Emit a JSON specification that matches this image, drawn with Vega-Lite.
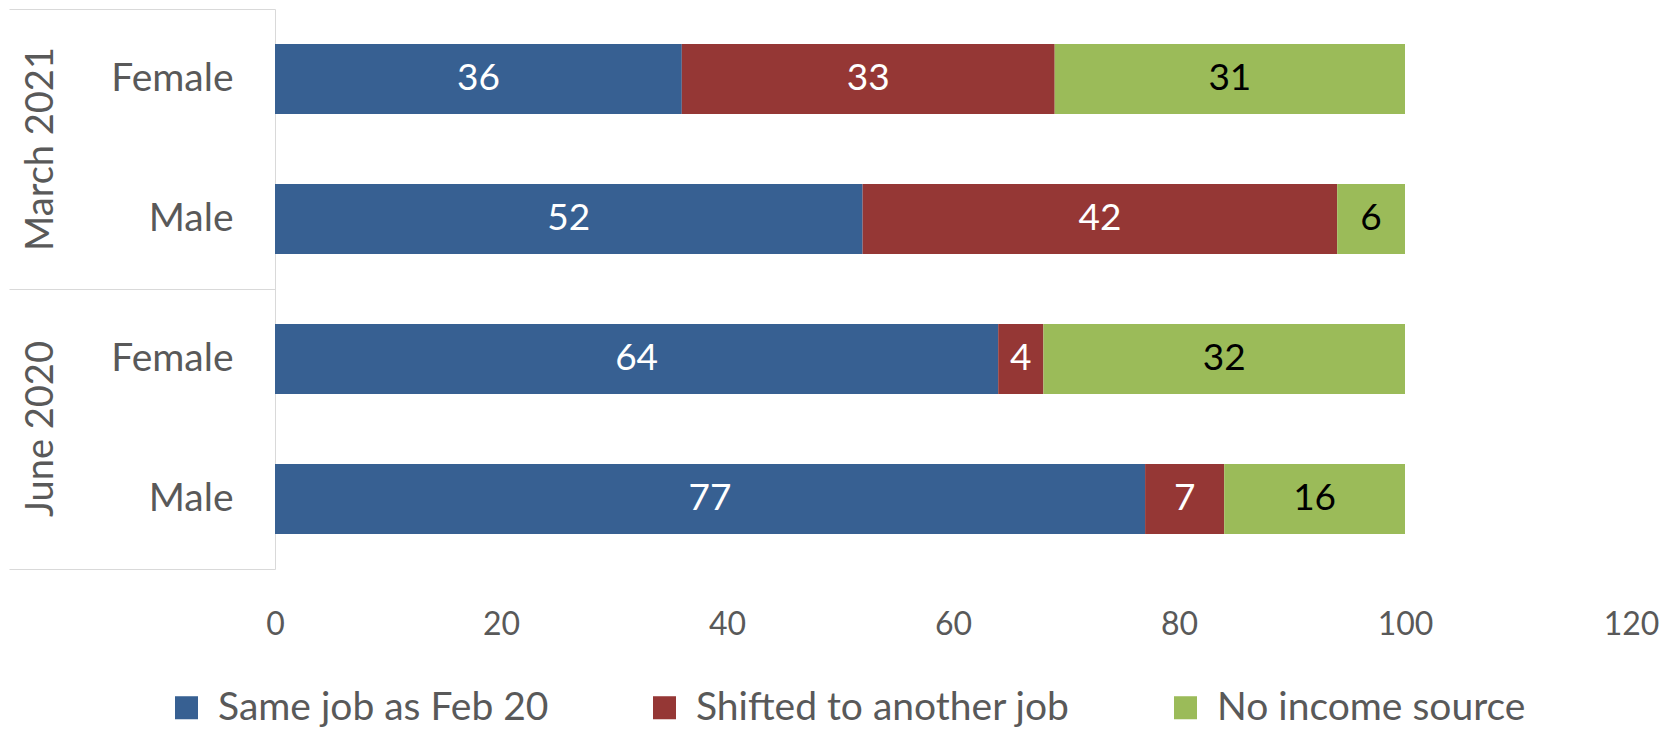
{
  "$schema": "https://vega.github.io/schema/vega-lite/v6.json",
  "width": 1356,
  "height": 560,
  "padding": {"left": 8, "top": 8, "right": 5, "bottom": 0},
  "background": "white",
  "config": {
    "font": "Lato",
    "view": {"stroke": null},
    "axis": {"grid": false}
  },
  "data": {
    "values": [
      {"period": "March 2021", "gender": "Female", "key": "March 2021|Female", "category": "Same job as Feb 20", "ord": 1, "value": 36},
      {"period": "March 2021", "gender": "Female", "key": "March 2021|Female", "category": "Shifted to another job", "ord": 2, "value": 33},
      {"period": "March 2021", "gender": "Female", "key": "March 2021|Female", "category": "No income source", "ord": 3, "value": 31},
      {"period": "March 2021", "gender": "Male", "key": "March 2021|Male", "category": "Same job as Feb 20", "ord": 1, "value": 52},
      {"period": "March 2021", "gender": "Male", "key": "March 2021|Male", "category": "Shifted to another job", "ord": 2, "value": 42},
      {"period": "March 2021", "gender": "Male", "key": "March 2021|Male", "category": "No income source", "ord": 3, "value": 6},
      {"period": "June 2020", "gender": "Female", "key": "June 2020|Female", "category": "Same job as Feb 20", "ord": 1, "value": 64},
      {"period": "June 2020", "gender": "Female", "key": "June 2020|Female", "category": "Shifted to another job", "ord": 2, "value": 4},
      {"period": "June 2020", "gender": "Female", "key": "June 2020|Female", "category": "No income source", "ord": 3, "value": 32},
      {"period": "June 2020", "gender": "Male", "key": "June 2020|Male", "category": "Same job as Feb 20", "ord": 1, "value": 77},
      {"period": "June 2020", "gender": "Male", "key": "June 2020|Male", "category": "Shifted to another job", "ord": 2, "value": 7},
      {"period": "June 2020", "gender": "Male", "key": "June 2020|Male", "category": "No income source", "ord": 3, "value": 16}
    ]
  },
  "layer": [
    {
      "encoding": {
        "y": {
          "field": "key",
          "type": "nominal",
          "sort": ["March 2021|Female", "March 2021|Male", "June 2020|Female", "June 2020|Male"],
          "scale": {"paddingInner": 0.5, "paddingOuter": 0.25},
          "axis": {
            "orient": "left",
            "title": null,
            "ticks": false,
            "domain": true,
            "domainColor": "#d9d9d9",
            "domainWidth": 1,
            "labelExpr": "split(datum.label, '|')[1]",
            "labelFontSize": 39,
            "labelColor": "#595959",
            "labelPadding": 42,
            "labelLimit": 400
          }
        }
      },
      "layer": [
        {
          "mark": {"type": "bar"},
          "encoding": {
            "x": {
              "field": "value",
              "type": "quantitative",
              "stack": "zero",
              "scale": {"domain": [0, 120]},
              "axis": {
                "title": null,
                "values": [0, 20, 40, 60, 80, 100, 120],
                "domain": false,
                "ticks": false,
                "labelFlush": false,
                "labelFontSize": 32,
                "labelColor": "#595959",
                "labelPadding": 40
              }
            },
            "color": {
              "field": "category",
              "type": "nominal",
              "sort": ["Same job as Feb 20", "Shifted to another job", "No income source"],
              "scale": {
                "domain": ["Same job as Feb 20", "Shifted to another job", "No income source"],
                "range": ["#376092", "#953735", "#9bbb59"]
              },
              "legend": {
                "title": null,
                "orient": "none",
                "direction": "horizontal",
                "legendX": -108,
                "legendY": 679,
                "symbolType": "square",
                "symbolSize": 530,
                "symbolStrokeWidth": 0,
                "labelFontSize": 39,
                "labelColor": "#595959",
                "labelOffset": 12,
                "labelLimit": 600,
                "columnPadding": 96,
                "padding": 0
              }
            },
            "order": {"field": "ord", "type": "quantitative"}
          }
        },
        {
          "mark": {"type": "text", "fontSize": 37, "baseline": "middle", "align": "center"},
          "encoding": {
            "x": {"field": "value", "type": "quantitative", "stack": "zero", "bandPosition": 0.5},
            "detail": {"field": "category", "type": "nominal"},
            "order": {"field": "ord", "type": "quantitative"},
            "text": {"field": "value", "type": "quantitative"},
            "color": {
              "condition": {"test": "datum.category === 'No income source'", "value": "#000000"},
              "value": "#ffffff"
            }
          }
        }
      ]
    },
    {
      "mark": {"type": "text", "text": " "},
      "encoding": {
        "y": {
          "field": "period",
          "type": "nominal",
          "sort": ["March 2021", "June 2020"],
          "scale": {"type": "band", "paddingInner": 0, "paddingOuter": 0},
          "axis": {
            "orient": "left",
            "title": null,
            "ticks": false,
            "domain": false,
            "labelAngle": -90,
            "labelAlign": "center",
            "labelBaseline": "alphabetic",
            "labelFontSize": 38,
            "labelColor": "#595959",
            "labelPadding": 223,
            "labelLimit": 400
          }
        }
      }
    },
    {
      "mark": {"type": "text", "text": " "},
      "encoding": {
        "y": {
          "field": "period",
          "type": "nominal",
          "sort": ["March 2021", "June 2020"],
          "scale": {"type": "band", "paddingInner": 0, "paddingOuter": 0},
          "axis": {
            "orient": "left",
            "title": null,
            "labels": false,
            "domain": false,
            "ticks": true,
            "tickSize": 266,
            "tickColor": "#d9d9d9",
            "tickWidth": 1,
            "bandPosition": 1,
            "tickExtra": true
          }
        }
      }
    }
  ],
  "resolve": {"scale": {"y": "independent"}}
}
